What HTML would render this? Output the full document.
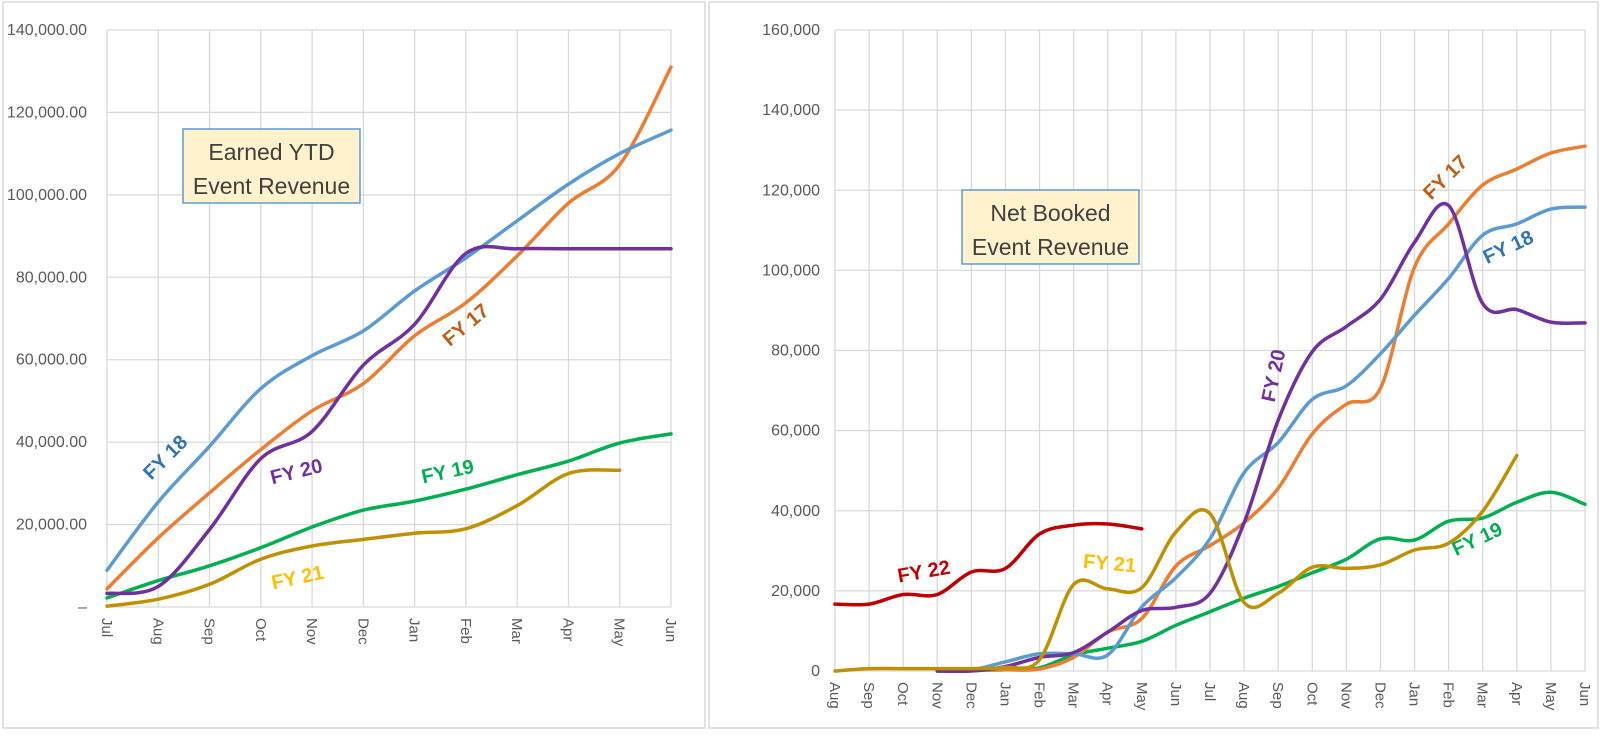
<!DOCTYPE html>
<html><head><meta charset="utf-8">
<style>
html,body{margin:0;padding:0;background:#fff;}
body{width:1600px;height:732px;overflow:hidden;font-family:"Liberation Sans",sans-serif;}
</style></head>
<body>
<svg id="svg" width="1600" height="732" xmlns="http://www.w3.org/2000/svg">
<rect x="3" y="2" width="702" height="726" fill="#fff" stroke="#d9d9d9" stroke-width="1.5"/>
<rect x="709" y="2" width="889" height="726" fill="#fff" stroke="#d9d9d9" stroke-width="1.5"/>
<g id="left"></g>
<g id="right"></g>
</svg>
<script>
// ---- Left chart data ----
const leftMonths = ["Jul","Aug","Sep","Oct","Nov","Dec","Jan","Feb","Mar","Apr","May","Jun"];
const leftTicks = ["–","20,000.00","40,000.00","60,000.00","80,000.00","100,000.00","120,000.00","140,000.00"];
const leftFY17 = [4400,16800,27700,38200,47600,54200,65800,73800,85200,98000,107300,131000];
const leftFY18 = [8900,25500,39000,53000,61000,67000,76700,84700,93700,102600,110000,115700];
const leftFY19 = [2200,6400,10000,14400,19400,23500,25700,28600,32100,35400,39800,42000];
const leftFY20 = [3300,5000,18800,36000,42600,58700,68600,85800,86900,86900,86900,86900];
const leftFY21 = [200,1900,5500,11600,14800,16400,17900,19000,24600,32400,33200,null];

// ---- Right chart data ----
const rightMonths = ["Aug","Sep","Oct","Nov","Dec","Jan","Feb","Mar","Apr","May","Jun","Jul","Aug","Sep","Oct","Nov","Dec","Jan","Feb","Mar","Apr","May","Jun"];
const rightTicks = ["0","20,000","40,000","60,000","80,000","100,000","120,000","140,000","160,000"];
const rightFY22 = [16700,16700,19100,19100,24700,25600,34200,36400,36700,35500,null,null,null,null,null,null,null,null,null,null,null,null,null];
const rightFY21 = [0,600,600,600,600,900,2800,21600,20500,20800,34700,39300,17100,19400,25900,25600,26500,30200,31900,39900,53800,null,null];
const rightFY17 = [null,null,null,0,300,300,500,3400,9700,13100,26200,31300,37000,45600,59200,66600,70600,100800,111600,121300,125300,129300,131000];
const rightFY18 = [null,null,null,0,300,2300,4300,4300,4000,16000,23300,33000,49500,57000,67800,71200,79200,88800,98000,108800,111600,115300,115800];
const rightFY19 = [null,null,null,0,200,300,800,4000,5700,7400,11400,14800,18200,21100,24500,27900,33000,32700,37400,38200,42100,44600,41600];
const rightFY20 = [null,null,null,0,0,1100,3400,4600,9700,15100,15900,19400,37000,62600,79700,86000,92800,107000,116200,91700,90200,87100,86900];

const NS="http://www.w3.org/2000/svg";
function mk(tag,attrs,parent){const e=document.createElementNS(NS,tag);for(const k in attrs)e.setAttribute(k,attrs[k]);parent.appendChild(e);return e;}
function smooth(pts){
  if(pts.length<2)return "";
  let d="M"+pts[0][0].toFixed(1)+","+pts[0][1].toFixed(1);
  for(let i=0;i<pts.length-1;i++){
    const p0=pts[i-1]||pts[i],p1=pts[i],p2=pts[i+1],p3=pts[i+2]||p2;
    const t=1/6;
    const c1=[p1[0]+(p2[0]-p0[0])*t,p1[1]+(p2[1]-p0[1])*t];
    const c2=[p2[0]-(p3[0]-p1[0])*t,p2[1]-(p3[1]-p1[1])*t];
    d+=" C"+c1[0].toFixed(1)+","+c1[1].toFixed(1)+" "+c2[0].toFixed(1)+","+c2[1].toFixed(1)+" "+p2[0].toFixed(1)+","+p2[1].toFixed(1);
  }
  return d;
}
function chart(g,cfg){
  const xs=i=>cfg.x0+(cfg.x1-cfg.x0)*i/(cfg.months.length-1);
  const ys=v=>cfg.y0-(cfg.y0-cfg.y1)*v/cfg.max;
  const nT=cfg.ticks.length-1;
  for(let i=0;i<=nT;i++){
    const v=cfg.max*i/nT,y=ys(v);
    const l=mk("line",{x1:cfg.x0,x2:cfg.x1,y1:y,y2:y,stroke:"#d9d9d9","stroke-width":1.3},g);
    
    
    const t=mk("text",{x:cfg.labelX,y:y+5,"text-anchor":"end","font-size":16,fill:"#595959"},g);
    t.textContent=cfg.ticks[i];
    
    
  }
  cfg.months.forEach((m,i)=>{
    const x=xs(i);
    const l=mk("line",{x1:x,x2:x,y1:cfg.y1,y2:cfg.y0,stroke:"#d9d9d9","stroke-width":1.3},g);
    
    
    const t=mk("text",{x:0,y:0,"font-size":15,fill:"#595959",transform:"translate("+(x-5)+","+(cfg.y0+11)+") rotate(90)"},g);
    t.textContent=m;
    
    
  });
  cfg.series.forEach(s=>{
    const pts=[];
    s.data.forEach((v,i)=>{if(v!==null)pts.push([xs(i),ys(v)]);});
    const p=mk("path",{d:smooth(pts),fill:"none",stroke:s.color,"stroke-width":3.5,"stroke-linejoin":"round","stroke-linecap":"round"},g);
    
    
  });
  cfg.labels.forEach(L=>{
    const t=mk("text",{x:0,y:0,"font-size":20,"font-weight":"bold",fill:L.c,"text-anchor":"middle",transform:"translate("+L.x+","+L.y+") rotate("+L.r+")"},g);
    t.textContent=L.t;
    
    
  });
  const b=cfg.box;
  const r=mk("rect",{x:b.x,y:b.y,width:b.w,height:b.h,fill:"#fff2cc",stroke:"#5b9bd5","stroke-width":1.5},g);
  
  
  b.lines.forEach((ln,i)=>{
    const t=mk("text",{x:b.x+b.w/2,y:b.y+31+i*34,"text-anchor":"middle","font-size":23,fill:"#404040"},g);
    t.textContent=ln;
    
    
  });
}
chart(document.getElementById('left'),{
  months:leftMonths,ticks:leftTicks,max:140000,x0:107,x1:671,y0:607,y1:30,labelX:87,
  series:[
    {name:"fy21-line",color:"#bf9000",data:leftFY21},
    {name:"fy19-line",color:"#00b050",data:leftFY19},
    {name:"fy17-line",color:"#ed7d31",data:leftFY17},
    {name:"fy18-line",color:"#5b9bd5",data:leftFY18},
    {name:"fy20-line",color:"#7030a0",data:leftFY20}],
  labels:[
    {t:"FY 18",x:170,y:462,r:-45,c:"#2e75b6",n:"fy18-label"},
    {t:"FY 20",x:298,y:478,r:-14,c:"#7030a0",n:"fy20-label"},
    {t:"FY 17",x:470,y:330,r:-40,c:"#c55a11",n:"fy17-label"},
    {t:"FY 19",x:449,y:478,r:-12,c:"#00b050",n:"fy19-label"},
    {t:"FY 21",x:299,y:584,r:-12,c:"#ffc000",n:"fy21-label"}],
  box:{x:183,y:129,w:177,h:74,lines:["Earned YTD","Event Revenue"]}
});
chart(document.getElementById('right'),{
  months:rightMonths,ticks:rightTicks,max:160000,x0:835,x1:1585,y0:671,y1:30,labelX:820,
  series:[
    {name:"fy19-line",color:"#00b050",data:rightFY19},
    {name:"fy17-line",color:"#ed7d31",data:rightFY17},
    {name:"fy18-line",color:"#5b9bd5",data:rightFY18},
    {name:"fy20-line",color:"#7030a0",data:rightFY20},
    {name:"fy21-line",color:"#bf9000",data:rightFY21},
    {name:"fy22-line",color:"#c00000",data:rightFY22}],
  labels:[
    {t:"FY 22",x:925,y:578,r:-10,c:"#c00000",n:"fy22-label"},
    {t:"FY 21",x:1109,y:570,r:5,c:"#ffc000",n:"fy21-label"},
    {t:"FY 20",x:1280,y:377,r:-78,c:"#7030a0",n:"fy20-label"},
    {t:"FY 17",x:1450,y:182,r:-45,c:"#c55a11",n:"fy17-label"},
    {t:"FY 18",x:1511,y:253,r:-25,c:"#2e75b6",n:"fy18-label"},
    {t:"FY 19",x:1480,y:545,r:-25,c:"#00b050",n:"fy19-label"}],
  box:{x:962,y:190,w:177,h:74,lines:["Net Booked","Event Revenue"]}
});
</script>
</body></html>
